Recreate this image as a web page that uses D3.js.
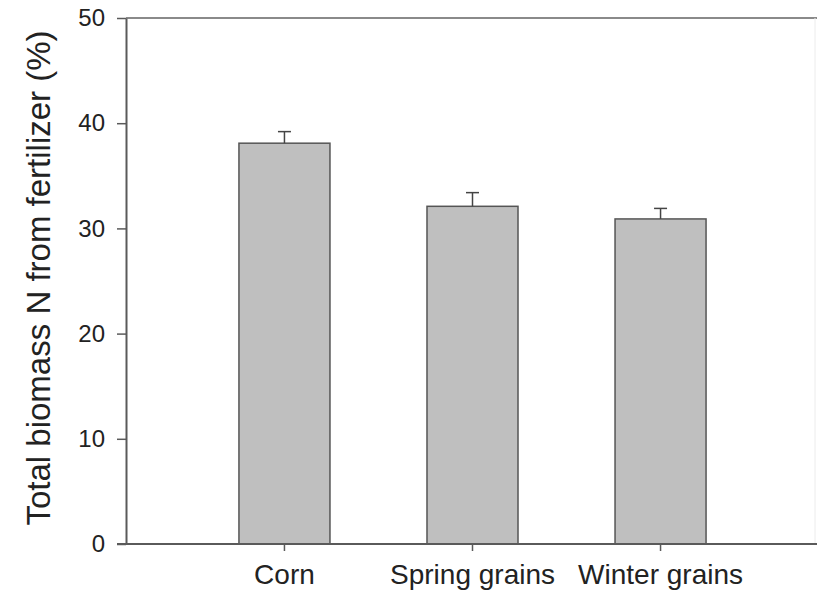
<!DOCTYPE html>
<html>
<head>
<meta charset="utf-8">
<script src="https://cdn.jsdelivr.net/npm/d3@7"></script>
<style>
  body { margin: 0; background: #fff; }
  svg { display: block; font-family: "Liberation Sans", Arial, sans-serif; }
</style>
</head>
<body>
<svg width="817" height="592"></svg>
<script>
const categories = ["Corn", "Spring grains", "Winter grains"];
const means = [38.1, 32.1, 30.9];
const errors = [1.1, 1.3, 1.0];
const yTicks = [0, 10, 20, 30, 40, 50];

const svg = d3.select("svg");
const plotLeft = 126, plotRight = 817, plotTop = 18, plotBottom = 544;
const axisColor = "#5a5a5a";

const data = categories.map((c, i) => ({ cat: c, mean: means[i], err: errors[i] }));

const x = d3.scaleBand()
  .domain(categories)
  .range([128, 817])
  .paddingInner(0.516)
  .paddingOuter(0.59);

const y = d3.scaleLinear().domain([0, 50]).range([plotBottom, plotTop]);

// frame: top and (faint) right edge
svg.append("line")
  .attr("x1", plotLeft).attr("x2", plotRight)
  .attr("y1", plotTop).attr("y2", plotTop)
  .attr("stroke", "#8a8a8a").attr("stroke-width", 2);
svg.append("line")
  .attr("x1", 815).attr("x2", 815)
  .attr("y1", plotTop).attr("y2", plotBottom)
  .attr("stroke", "#ececec").attr("stroke-width", 1);

// bars
svg.selectAll("rect.bar")
  .data(data)
  .enter()
  .append("rect")
  .attr("class", "bar")
  .attr("x", d => x(d.cat))
  .attr("y", d => y(d.mean))
  .attr("width", x.bandwidth())
  .attr("height", d => y(0) - y(d.mean))
  .attr("fill", "#bfbfbf")
  .attr("stroke", "#555")
  .attr("stroke-width", 1.5);

// error bars (upper only)
const cap = 13;
data.forEach(d => {
  const cx = x(d.cat) + x.bandwidth() / 2;
  svg.append("line")
    .attr("x1", cx).attr("x2", cx)
    .attr("y1", y(d.mean)).attr("y2", y(d.mean + d.err))
    .attr("stroke", "#444").attr("stroke-width", 1.5);
  svg.append("line")
    .attr("x1", cx - cap / 2).attr("x2", cx + cap / 2)
    .attr("y1", y(d.mean + d.err)).attr("y2", y(d.mean + d.err))
    .attr("stroke", "#444").attr("stroke-width", 1.5);
});

// y axis
const yAxis = svg.append("g")
  .attr("transform", `translate(${plotLeft},0)`)
  .call(d3.axisLeft(y).tickValues(yTicks).tickSize(9).tickPadding(12).tickSizeOuter(0));
yAxis.select(".domain").attr("stroke", axisColor).attr("stroke-width", 2);
yAxis.selectAll(".tick line").attr("stroke", axisColor).attr("stroke-width", 1.5);
yAxis.selectAll(".tick text")
  .attr("font-size", 24)
  .attr("fill", "#222")
  .attr("font-family", "Liberation Sans, Arial, sans-serif");

// x axis
const xAxis = svg.append("g")
  .attr("transform", `translate(0,${plotBottom})`)
  .call(d3.axisBottom(x).tickSize(7).tickPadding(13).tickSizeOuter(0));
xAxis.select(".domain").remove();
xAxis.selectAll(".tick line").attr("stroke", axisColor).attr("stroke-width", 1.5);
xAxis.selectAll(".tick text")
  .attr("font-size", 28)
  .attr("fill", "#222")
  .attr("font-family", "Liberation Sans, Arial, sans-serif");
svg.append("line")
  .attr("x1", plotLeft - 9).attr("x2", plotRight)
  .attr("y1", plotBottom).attr("y2", plotBottom)
  .attr("stroke", axisColor).attr("stroke-width", 2);

// y label
svg.append("text")
  .attr("transform", "translate(50,278) rotate(-90)")
  .attr("text-anchor", "middle")
  .attr("font-size", 33)
  .attr("fill", "#222")
  .text("Total biomass N from fertilizer (%)");
</script>
</body>
</html>
